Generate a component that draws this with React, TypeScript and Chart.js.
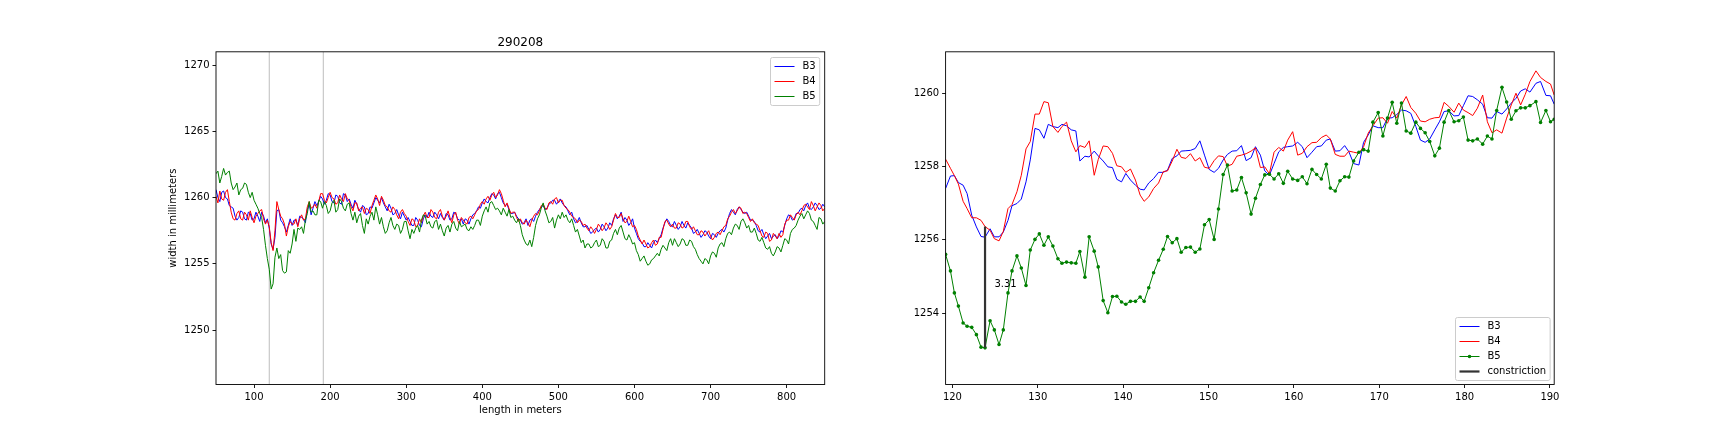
import React, { useEffect, useRef } from "react";
import Chart from "chart.js/auto";

const FONT = "'DejaVu Sans', sans-serif";

// ---- left plot: whole run, read every 2.5 m ----
const leftX = [
  50, 52.5, 55, 57.5, 60, 62.5, 65, 67.5, 70, 72.5, 75, 77.5, 80, 82.5, 85, 87.5, 90, 92.5, 95, 97.5,
  100, 102.5, 105, 107.5, 110, 112.5, 115, 117.5, 120, 122.5, 125, 127.5, 130, 132.5, 135, 137.5, 140, 142.5, 145, 147.5,
  150, 152.5, 155, 157.5, 160, 162.5, 165, 167.5, 170, 172.5, 175, 177.5, 180, 182.5, 185, 187.5, 190, 192.5, 195, 197.5,
  200, 202.5, 205, 207.5, 210, 212.5, 215, 217.5, 220, 222.5, 225, 227.5, 230, 232.5, 235, 237.5, 240, 242.5, 245, 247.5,
  250, 252.5, 255, 257.5, 260, 262.5, 265, 267.5, 270, 272.5, 275, 277.5, 280, 282.5, 285, 287.5, 290, 292.5, 295, 297.5,
  300, 302.5, 305, 307.5, 310, 312.5, 315, 317.5, 320, 322.5, 325, 327.5, 330, 332.5, 335, 337.5, 340, 342.5, 345, 347.5,
  350, 352.5, 355, 357.5, 360, 362.5, 365, 367.5, 370, 372.5, 375, 377.5, 380, 382.5, 385, 387.5, 390, 392.5, 395, 397.5,
  400, 402.5, 405, 407.5, 410, 412.5, 415, 417.5, 420, 422.5, 425, 427.5, 430, 432.5, 435, 437.5, 440, 442.5, 445, 447.5,
  450, 452.5, 455, 457.5, 460, 462.5, 465, 467.5, 470, 472.5, 475, 477.5, 480, 482.5, 485, 487.5, 490, 492.5, 495, 497.5,
  500, 502.5, 505, 507.5, 510, 512.5, 515, 517.5, 520, 522.5, 525, 527.5, 530, 532.5, 535, 537.5, 540, 542.5, 545, 547.5,
  550, 552.5, 555, 557.5, 560, 562.5, 565, 567.5, 570, 572.5, 575, 577.5, 580, 582.5, 585, 587.5, 590, 592.5, 595, 597.5,
  600, 602.5, 605, 607.5, 610, 612.5, 615, 617.5, 620, 622.5, 625, 627.5, 630, 632.5, 635, 637.5, 640, 642.5, 645, 647.5,
  650, 652.5, 655, 657.5, 660, 662.5, 665, 667.5, 670, 672.5, 675, 677.5, 680, 682.5, 685, 687.5, 690, 692.5, 695, 697.5,
  700, 702.5, 705, 707.5, 710, 712.5, 715, 717.5, 720, 722.5, 725, 727.5, 730, 732.5, 735, 737.5, 740, 742.5, 745, 747.5,
  750, 752.5, 755, 757.5, 760, 762.5, 765, 767.5, 770, 772.5, 775, 777.5, 780, 782.5, 785, 787.5, 790, 792.5, 795, 797.5,
  800, 802.5, 805, 807.5, 810, 812.5, 815, 817.5, 820, 822.5, 825, 827.5, 830, 832.5, 835, 837.5, 840, 842.5, 845, 847.5,
  850,
];
const leftB3 = [
  1260.6, 1260.0, 1259.7, 1260.4, 1260.5, 1260.0, 1259.9, 1259.4, 1259.3, 1259.2, 1258.6, 1258.3, 1258.5, 1259.0, 1258.9, 1258.4, 1258.3, 1258.9, 1258.8, 1258.3,
  1258.4, 1258.9, 1258.6, 1258.2, 1258.9, 1258.6, 1258.1, 1258.4, 1257.7, 1256.5, 1256.1, 1257.0, 1259.0, 1259.1, 1258.3, 1258.1, 1257.8, 1257.4, 1257.9, 1258.4,
  1257.9, 1258.3, 1258.3, 1257.9, 1258.6, 1258.5, 1258.4, 1258.1, 1259.1, 1259.5, 1258.7, 1259.2, 1259.7, 1259.4, 1259.7, 1260.1, 1259.9, 1259.5, 1259.8, 1260.3,
  1260.2, 1259.7, 1259.6, 1260.2, 1260.1, 1259.6, 1259.5, 1260.3, 1260.2, 1259.7, 1259.9, 1259.5, 1259.2, 1259.8, 1259.5, 1259.1, 1258.9, 1259.4, 1259.3, 1258.7,
  1258.8, 1259.3, 1259.2, 1259.6, 1260.0, 1259.8, 1259.6, 1260.0, 1259.6, 1259.3, 1259.0, 1259.5, 1259.2, 1258.7, 1258.8, 1259.1, 1258.7, 1258.4, 1258.9, 1258.6,
  1258.3, 1258.5, 1258.2, 1257.9, 1257.9, 1258.5, 1258.3, 1257.9, 1257.8, 1258.4, 1258.7, 1258.5, 1258.9, 1258.6, 1258.5, 1258.9, 1258.7, 1258.4, 1258.8, 1258.5,
  1258.3, 1258.8, 1258.7, 1258.3, 1258.4, 1258.9, 1258.8, 1258.4, 1258.3, 1258.4, 1258.0, 1258.4, 1258.3, 1258.0, 1258.4, 1258.7, 1258.8, 1259.0, 1259.3, 1259.2,
  1259.6, 1259.9, 1259.7, 1259.6, 1260.0, 1260.3, 1260.2, 1259.9, 1260.3, 1260.4, 1260.0, 1259.6, 1259.4, 1259.5, 1259.1, 1258.8, 1258.8, 1258.9, 1258.6, 1258.4,
  1258.3, 1258.0, 1258.1, 1258.4, 1257.9, 1258.3, 1258.4, 1258.2, 1258.6, 1258.9, 1259.1, 1259.3, 1259.4, 1259.1, 1259.2, 1259.5, 1259.6, 1259.8, 1259.8, 1259.5,
  1259.7, 1259.9, 1259.6, 1259.4, 1259.3, 1259.0, 1258.7, 1258.9, 1258.4, 1258.1, 1258.2, 1258.5, 1258.1, 1257.8, 1257.8, 1257.9, 1257.6, 1257.3, 1257.4, 1257.6,
  1257.7, 1257.4, 1257.6, 1258.0, 1257.8, 1257.5, 1257.7, 1258.1, 1257.9, 1258.4, 1258.7, 1258.4, 1258.6, 1258.9, 1258.2, 1258.5, 1258.3, 1257.9, 1258.1, 1258.4,
  1257.7, 1257.3, 1256.9, 1256.7, 1256.6, 1256.3, 1256.3, 1256.6, 1256.4, 1256.2, 1256.6, 1256.8, 1256.6, 1256.9, 1257.2, 1257.7, 1258.1, 1258.4, 1258.2, 1257.9,
  1257.8, 1258.2, 1257.9, 1257.6, 1257.8, 1258.2, 1257.9, 1257.7, 1258.1, 1257.9, 1257.7, 1257.3, 1257.4, 1257.6, 1257.3, 1257.0, 1257.2, 1257.5, 1257.4, 1257.1,
  1256.9, 1257.3, 1257.2, 1257.0, 1257.3, 1257.5, 1257.6, 1257.4, 1257.7, 1258.3, 1258.8, 1259.1, 1258.9, 1258.7, 1259.1, 1259.3, 1259.1, 1258.9, 1258.8, 1258.9,
  1258.6, 1258.3, 1258.3, 1258.2, 1257.9, 1257.5, 1257.4, 1257.6, 1257.2, 1256.9, 1257.1, 1257.3, 1256.9, 1257.1, 1257.2, 1256.9, 1257.1, 1257.5, 1257.4, 1257.9,
  1258.4, 1258.7, 1258.6, 1258.3, 1258.4, 1258.8, 1258.8, 1259.1, 1259.2, 1259.0, 1259.4, 1259.6, 1259.2, 1259.1, 1259.3, 1259.6, 1259.4, 1259.1, 1259.2, 1259.5,
  1259.3,
];
const leftB4 = [
  1260.1, 1259.6, 1260.5, 1259.9, 1259.8, 1260.4, 1260.6, 1259.7, 1258.9, 1258.4, 1258.3, 1258.8, 1259.0, 1258.4, 1258.3, 1258.9, 1258.7, 1258.3, 1259.0, 1258.5,
  1258.1, 1258.6, 1258.8, 1259.0, 1259.1, 1258.4, 1258.0, 1258.3, 1257.8, 1256.6, 1256.0, 1257.5, 1259.7, 1259.1, 1258.6, 1258.4, 1258.0, 1257.1, 1257.8, 1258.2,
  1258.0, 1258.0, 1258.4, 1257.8, 1258.4, 1258.7, 1258.3, 1258.4, 1259.3, 1259.7, 1259.2, 1259.3, 1259.5, 1259.2, 1259.7, 1260.3, 1260.3, 1259.8, 1259.6, 1260.0,
  1260.4, 1260.0, 1259.9, 1259.5, 1259.6, 1260.2, 1259.9, 1259.7, 1260.3, 1259.9, 1259.8, 1259.3, 1259.0, 1259.6, 1259.6, 1259.0, 1259.2, 1259.3, 1258.8, 1259.2,
  1259.1, 1258.8, 1259.4, 1259.8, 1260.2, 1259.9, 1259.4, 1260.1, 1259.8, 1259.4, 1259.3, 1259.0, 1258.9, 1259.3, 1259.1, 1258.7, 1258.4, 1258.9, 1259.1, 1258.8,
  1258.6, 1258.2, 1257.9, 1258.4, 1258.3, 1257.8, 1257.9, 1258.4, 1258.1, 1258.6, 1258.9, 1258.5, 1258.5, 1259.1, 1258.9, 1258.5, 1258.4, 1258.9, 1259.1, 1258.6,
  1258.3, 1258.6, 1259.0, 1258.5, 1258.1, 1258.7, 1258.9, 1258.3, 1258.0, 1258.5, 1258.3, 1258.1, 1258.0, 1258.5, 1258.6, 1258.4, 1258.7, 1259.0, 1259.1, 1259.5,
  1259.7, 1259.5, 1259.9, 1260.1, 1259.8, 1260.2, 1260.4, 1260.0, 1260.2, 1260.6, 1260.3, 1259.8, 1259.3, 1259.6, 1259.2, 1258.8, 1258.9, 1258.9, 1258.5, 1258.2,
  1258.4, 1258.1, 1258.0, 1258.3, 1258.1, 1257.8, 1258.3, 1258.6, 1258.8, 1258.7, 1259.0, 1259.4, 1259.5, 1259.2, 1259.1, 1259.6, 1259.7, 1259.5, 1259.9, 1260.0,
  1259.6, 1259.8, 1259.8, 1259.4, 1259.2, 1259.1, 1258.9, 1258.6, 1258.5, 1258.4, 1258.1, 1258.3, 1258.2, 1257.9, 1258.0, 1257.7, 1257.5, 1257.8, 1257.6, 1257.3,
  1257.6, 1258.0, 1257.8, 1257.5, 1257.7, 1258.1, 1257.9, 1257.6, 1257.8, 1258.3, 1258.8, 1258.5, 1258.5, 1258.8, 1258.4, 1258.1, 1258.2, 1258.6, 1258.2, 1257.8,
  1257.9, 1257.6, 1257.1, 1256.8, 1256.5, 1256.8, 1256.5, 1256.2, 1256.3, 1256.6, 1256.8, 1256.4, 1256.5, 1257.0, 1257.0, 1257.6, 1258.2, 1258.3, 1258.0, 1257.8,
  1258.0, 1257.7, 1257.7, 1258.1, 1258.0, 1257.7, 1257.8, 1258.2, 1258.2, 1257.8, 1257.6, 1257.8, 1257.5, 1257.2, 1257.2, 1257.5, 1257.4, 1257.1, 1257.3, 1257.5,
  1257.1, 1256.8, 1257.0, 1257.3, 1257.4, 1257.2, 1257.5, 1257.8, 1257.9, 1258.4, 1258.6, 1258.9, 1259.1, 1258.8, 1259.0, 1259.3, 1259.2, 1258.8, 1258.9, 1258.8,
  1258.5, 1258.2, 1258.4, 1258.1, 1258.0, 1257.9, 1257.5, 1257.1, 1257.0, 1257.4, 1257.3, 1256.7, 1256.8, 1257.3, 1257.1, 1256.9, 1257.3, 1257.0, 1257.2, 1258.0,
  1258.3, 1258.3, 1258.7, 1258.5, 1258.3, 1258.7, 1258.9, 1258.7, 1259.0, 1259.4, 1259.5, 1259.3, 1259.1, 1259.7, 1259.4, 1259.0, 1259.3, 1259.6, 1259.4, 1259.0,
  1259.2,
];
const leftB5 = [
  1261.8, 1262.0, 1261.1, 1261.6, 1262.2, 1261.7, 1261.9, 1262.0, 1261.1, 1260.6, 1260.8, 1261.1, 1260.2, 1260.6, 1260.7, 1261.1, 1261.0, 1260.4, 1260.0, 1260.4,
  1259.8, 1259.5, 1259.2, 1258.8, 1258.5, 1257.6, 1256.4, 1255.4, 1254.6, 1253.1, 1253.5, 1255.5, 1256.2, 1255.4, 1255.7, 1254.5, 1254.3, 1254.4, 1256.0, 1255.8,
  1256.5, 1257.6, 1256.7, 1257.7, 1257.6, 1257.8, 1257.3, 1258.3, 1258.8, 1259.7, 1258.9, 1259.0, 1258.7, 1258.7, 1259.8, 1259.7, 1259.2, 1259.7, 1259.4, 1258.8,
  1259.0, 1259.6, 1259.8, 1258.9, 1259.1, 1259.9, 1259.7, 1259.2, 1259.0, 1259.5, 1259.6, 1258.8, 1258.3, 1258.9, 1258.1, 1258.6, 1258.8, 1257.9, 1257.3, 1258.4,
  1258.0, 1258.6, 1258.9, 1258.3, 1259.3, 1258.7, 1258.0, 1258.5, 1257.8, 1257.3, 1257.5, 1258.1, 1258.5, 1257.9, 1257.6, 1258.0, 1257.9, 1257.3, 1257.6, 1258.2,
  1258.2, 1257.5, 1256.9, 1257.6, 1257.3, 1257.7, 1257.9, 1257.4, 1258.3, 1258.7, 1258.6, 1258.0, 1258.2, 1257.8, 1257.7, 1258.2, 1258.3, 1257.6, 1258.0, 1257.5,
  1257.1, 1257.7, 1257.9, 1257.4, 1258.0, 1258.2, 1257.7, 1257.5, 1258.2, 1257.8, 1257.9, 1258.0, 1257.6, 1257.5, 1257.8, 1257.6, 1257.9, 1258.3, 1258.3, 1257.9,
  1258.6, 1259.0, 1259.3, 1258.9, 1259.6, 1259.7, 1259.4, 1259.1, 1259.2, 1259.0, 1258.7, 1259.2, 1258.9, 1258.6, 1259.1, 1258.5, 1258.6, 1258.3, 1258.1, 1258.4,
  1257.9, 1257.2, 1256.8, 1256.5, 1256.4, 1256.8, 1256.3, 1257.0, 1257.9, 1258.4, 1258.7, 1259.2, 1259.6, 1259.0, 1258.6, 1258.1, 1258.2, 1258.5, 1257.7, 1258.3,
  1258.7, 1258.4, 1258.9, 1258.5, 1258.7, 1258.3, 1258.1, 1258.4, 1257.9, 1257.4, 1257.6, 1257.1, 1256.6, 1256.8, 1256.2, 1256.5, 1256.5, 1256.2, 1256.3, 1256.6,
  1256.8, 1256.3, 1256.4, 1256.9, 1256.7, 1256.2, 1256.2, 1256.7, 1256.8, 1257.3, 1257.6, 1257.2, 1257.7, 1257.9, 1257.4, 1256.9, 1256.8, 1257.2, 1256.9, 1256.5,
  1256.6, 1256.0, 1255.7, 1255.2, 1255.4, 1255.6, 1255.2, 1254.9, 1255.0, 1255.3, 1255.4, 1255.6, 1255.8, 1255.6, 1256.1, 1256.4, 1256.2, 1256.0, 1256.6, 1256.9,
  1256.4, 1256.9, 1256.6, 1256.3, 1256.5, 1256.9, 1256.8, 1256.4, 1256.4, 1256.8, 1256.7, 1256.3, 1256.1, 1255.7, 1255.4, 1255.2, 1255.0, 1255.4, 1255.3, 1255.0,
  1255.6, 1255.9, 1255.8, 1255.5, 1256.2, 1256.5, 1256.6, 1256.3, 1256.9, 1257.3, 1257.4, 1257.2, 1257.7, 1258.0, 1257.9, 1257.6, 1258.2, 1258.4, 1258.1, 1257.7,
  1257.9, 1257.4, 1257.4, 1257.7, 1257.3, 1256.8, 1256.7, 1257.0, 1256.6, 1256.2, 1256.1, 1256.3, 1255.8, 1255.6, 1255.9, 1256.3, 1256.2, 1255.9, 1256.4, 1256.9,
  1256.8, 1256.5, 1257.3, 1257.6, 1257.7, 1257.9, 1258.3, 1258.6, 1258.8, 1258.4, 1258.7, 1259.0, 1258.8, 1258.3, 1258.2, 1257.9, 1257.6, 1258.5, 1258.4, 1258.0,
  1258.2,
];
const leftXTicks = [100, 200, 300, 400, 500, 600, 700, 800];
const leftYTicks = [1250, 1255, 1260, 1265, 1270];
const leftXRange = [50, 850];
const leftYRange = [1245.9, 1271.0];
const windowLines = [120, 191];

// ---- right plot: zoom on the constriction ----
const rightX = [
  119.2, 119.77, 120.23, 120.7, 121.25, 121.72, 122.26, 122.81, 123.35, 123.82, 124.41, 124.91, 125.46, 125.96, 126.51, 126.98,
  127.56, 128.07, 128.62, 129.12, 129.67, 130.18, 130.72, 131.23, 131.77, 132.36, 132.83, 133.37, 133.92, 134.46, 134.93, 135.52,
  136.02, 136.61, 137.08, 137.66, 138.21, 138.75, 139.26, 139.81, 140.31, 140.86, 141.44, 141.99, 142.46, 143.0,
  143.57, 144.15, 144.7, 145.2, 145.75, 146.3, 146.8, 147.35, 147.89, 148.44, 148.99, 149.53, 150.08, 150.66, 151.17, 151.72,
  152.22, 152.77, 153.31, 153.86, 154.41, 154.99, 155.5, 156.08, 156.59, 157.13, 157.68, 158.23, 158.77, 159.28, 159.86, 160.45,
  160.99, 161.54, 162.12, 162.67, 163.22, 163.8, 164.27, 164.85, 165.4, 165.95, 166.45,
  167.0, 167.62, 168.17, 168.71, 169.26, 169.88, 170.43, 170.97, 171.52, 172.06, 172.61, 173.16, 173.7, 174.29, 174.83, 175.38,
  175.92, 176.51, 177.05, 177.6, 178.15, 178.77, 179.32, 179.86, 180.41, 180.95, 181.5, 182.12, 182.67, 183.21, 183.76, 184.38,
  184.93, 185.47, 186.02, 186.57, 187.11, 187.66, 188.36, 188.9, 189.53, 190.07, 190.5,
];
const rightB3 = [
  1257.4, 1257.74, 1257.75, 1257.56, 1257.49, 1257.26, 1256.67, 1256.35, 1256.09, 1256.07, 1256.3, 1256.08, 1256.08, 1256.21, 1256.53, 1256.93,
  1256.99, 1257.11, 1257.58, 1258.18, 1259.04, 1259.0, 1258.77, 1259.15, 1259.09, 1259.06, 1259.15, 1259.11, 1259.0, 1258.97, 1258.15, 1258.28,
  1258.26, 1258.42, 1258.29, 1258.15, 1257.99, 1257.97, 1257.65, 1257.58, 1257.81, 1257.63, 1257.49, 1257.38, 1257.36, 1257.55,
  1257.67, 1257.84, 1257.84, 1257.9, 1258.22, 1258.29, 1258.42, 1258.43, 1258.44, 1258.49, 1258.7, 1258.31, 1257.92, 1257.84, 1257.95, 1258.18,
  1258.33, 1258.42, 1258.43, 1258.57, 1258.16, 1258.24, 1258.54, 1258.31, 1257.88, 1257.76, 1258.08, 1258.4, 1258.52, 1258.54, 1258.56, 1258.66,
  1258.54, 1258.24, 1258.39, 1258.54, 1258.56, 1258.72, 1258.75, 1258.42, 1258.43, 1258.57, 1258.4,
  1258.08, 1258.04, 1258.66, 1258.86, 1259.11, 1259.06, 1259.06, 1259.32, 1259.33, 1259.42, 1259.54, 1259.52, 1259.45, 1259.09, 1258.72, 1258.66,
  1258.75, 1259.0, 1259.22, 1259.5, 1259.52, 1259.38, 1259.39, 1259.66, 1259.93, 1259.91, 1259.82, 1259.7, 1259.33, 1259.32, 1259.5, 1259.43,
  1259.57, 1259.73, 1259.86, 1260.06, 1260.12, 1260.03, 1260.27, 1260.32, 1259.94, 1259.93, 1259.7,
];
const rightB4 = [
  1258.2, 1257.95, 1257.75, 1257.52, 1257.05, 1256.85, 1256.6, 1256.6, 1256.53, 1256.36, 1256.26, 1256.03, 1255.97, 1256.23, 1256.85, 1256.96,
  1257.31, 1257.76, 1258.48, 1258.68, 1259.43, 1259.43, 1259.77, 1259.74, 1259.09, 1258.93, 1259.09, 1259.21, 1258.7, 1258.4, 1258.57, 1258.52,
  1258.7, 1257.76, 1258.19, 1258.56, 1258.54, 1258.36, 1258.02, 1257.99, 1257.84, 1257.93, 1257.63, 1257.22, 1257.05, 1257.17,
  1257.4, 1257.55, 1257.86, 1257.88, 1258.15, 1258.47, 1258.25, 1258.22, 1258.35, 1258.15, 1258.24, 1257.98, 1257.95, 1258.16, 1258.29, 1258.27,
  1258.01, 1258.06, 1258.28, 1258.31, 1258.35, 1258.42, 1258.51, 1257.97, 1257.99, 1257.8, 1258.39, 1258.52, 1258.42, 1258.72, 1258.95, 1258.31,
  1258.36, 1258.54, 1258.65, 1258.66, 1258.79, 1258.86, 1258.75, 1258.33, 1258.28, 1258.28, 1258.42,
  1258.39, 1258.36, 1258.54, 1258.91, 1259.11, 1259.32, 1259.33, 1259.18, 1259.5, 1259.32, 1259.68, 1259.91, 1259.61, 1259.45, 1259.24, 1259.22,
  1259.29, 1259.33, 1259.34, 1259.75, 1259.64, 1259.48, 1259.73, 1259.54, 1259.47, 1259.39, 1259.59, 1259.95, 1259.22, 1258.92, 1259.0, 1258.91,
  1259.32, 1259.68, 1260.0, 1259.68, 1259.97, 1260.32, 1260.61, 1260.43, 1260.32, 1260.25, 1259.95,
];
const rightB5 = [
  1255.6, 1255.15, 1254.55, 1254.19, 1253.73, 1253.64, 1253.61, 1253.41, 1253.07, 1253.05, 1253.79, 1253.54, 1253.14, 1253.54, 1254.55, 1255.15,
  1255.56, 1255.23, 1254.75, 1255.72, 1256.01, 1256.16, 1255.85, 1256.08, 1255.83, 1255.48, 1255.36, 1255.39, 1255.37, 1255.36, 1255.68, 1254.98,
  1256.08, 1255.69, 1255.26, 1254.34, 1254.01, 1254.45, 1254.46, 1254.3, 1254.24, 1254.32, 1254.32, 1254.44, 1254.32, 1254.69,
  1255.1, 1255.44, 1255.74, 1256.09, 1255.92, 1256.03, 1255.66, 1255.79, 1255.8, 1255.66, 1255.75, 1256.41, 1256.55, 1256.01, 1256.84, 1257.78,
  1258.04, 1257.33, 1257.36, 1257.7, 1257.28, 1256.7, 1257.13, 1257.51, 1257.77, 1257.79, 1257.66, 1257.8, 1257.54, 1257.87, 1257.66, 1257.62,
  1257.72, 1257.53, 1257.92, 1257.78, 1257.66, 1258.06, 1257.41, 1257.33, 1257.61, 1257.72, 1257.71,
  1258.15, 1258.39, 1258.46, 1258.42, 1259.21, 1259.47, 1258.83, 1259.32, 1259.75, 1259.18, 1259.73, 1258.97, 1258.91, 1259.21, 1259.04, 1258.92,
  1258.68, 1258.29, 1258.5, 1259.21, 1259.53, 1259.22, 1259.25, 1259.35, 1258.72, 1258.7, 1258.75, 1258.61, 1258.83, 1258.75, 1259.53, 1260.16,
  1259.76, 1259.29, 1259.52, 1259.6, 1259.6, 1259.66, 1259.77, 1259.2, 1259.53, 1259.22, 1259.29,
];
const rightXTicks = [120, 130, 140, 150, 160, 170, 180, 190];
const rightYTicks = [1254, 1256, 1258, 1260];
const rightYRange = [1252.05, 1261.13];
const constrictionIndex = 9; // where B5 is narrowest

const pts = (xs: number[], ys: number[]) => xs.map((x, i) => ({ x, y: ys[i] }));

type LegendItem = { label: string; color: string; width: number; marker?: boolean };

function drawLegend(chart: any, items: LegendItem[], corner: "upper" | "lower") {
  const { ctx, chartArea } = chart;
  ctx.save();
  ctx.font = `10px ${FONT}`;
  const textW = Math.max(...items.map((it) => ctx.measureText(it.label).width));
  const w = 4 + 20 + 8 + textW + 4;
  const h = 8 + items.length * 10 + (items.length - 1) * 5;
  const x0 = Math.round(chartArea.right - 5 - w) + 0.5;
  const y0 = Math.round(corner === "upper" ? chartArea.top + 5 : chartArea.bottom - 5 - h) + 0.5;
  ctx.beginPath();
  ctx.roundRect(x0, y0, w, h, 2);
  ctx.fillStyle = "rgba(255,255,255,0.8)";
  ctx.fill();
  ctx.strokeStyle = "#cccccc";
  ctx.lineWidth = 1;
  ctx.stroke();
  items.forEach((it, i) => {
    const cy = y0 + 9 + i * 15;
    ctx.beginPath();
    ctx.moveTo(x0 + 4, cy);
    ctx.lineTo(x0 + 24, cy);
    ctx.strokeStyle = it.color;
    ctx.lineWidth = it.width;
    ctx.stroke();
    if (it.marker) {
      ctx.beginPath();
      ctx.arc(x0 + 14, cy, 1.8, 0, Math.PI * 2);
      ctx.fillStyle = it.color;
      ctx.fill();
    }
    ctx.fillStyle = "#000";
    ctx.textAlign = "left";
    ctx.textBaseline = "middle";
    ctx.fillText(it.label, x0 + 32, cy);
  });
  ctx.restore();
}

const framePlugin = {
  id: "frame",
  afterDatasetsDraw(chart: any) {
    const { ctx, chartArea: a } = chart;
    ctx.save();
    ctx.strokeStyle = "#000";
    ctx.lineWidth = 0.9;
    ctx.strokeRect(a.left, a.top, a.right - a.left, a.bottom - a.top);
    ctx.restore();
  },
};

function axis(ticks: number[], min: number, max: number, fit: (s: any) => void, title?: any) {
  return {
    type: "linear" as const,
    min,
    max,
    grid: { display: true, drawOnChartArea: false, drawTicks: true, tickLength: 3.5, tickWidth: 0.9, tickColor: "#000" },
    border: { display: false },
    ticks: {
      color: "#000",
      font: { family: FONT, size: 10 },
      padding: 3,
      maxRotation: 0,
      autoSkip: false,
      callback: (v: any) => String(v),
    },
    afterBuildTicks: (s: any) => {
      s.ticks = ticks.map((value) => ({ value }));
    },
    afterFit: fit,
    title: title ?? { display: false },
  };
}

const line = (data: any[], color: string, order: number, extra: any = {}) => ({
  data,
  borderColor: color,
  backgroundColor: color,
  borderWidth: 1,
  pointRadius: 0,
  tension: 0,
  order,
  ...extra,
});

function LeftPlot() {
  const ref = useRef<HTMLCanvasElement>(null);
  useEffect(() => {
    if (!ref.current) return;
    const chart = new Chart(ref.current, {
      type: "line",
      data: {
        datasets: [
          ...windowLines.map((x) =>
            line([{ x, y: leftYRange[0] }, { x, y: leftYRange[1] }], "#bdbdbd", 10)
          ),
          line(pts(leftX, leftB3), "blue", 3),
          line(pts(leftX, leftB4), "red", 2),
          line(pts(leftX, leftB5), "green", 1),
        ],
      },
      options: {
        animation: false,
        responsive: false,
        devicePixelRatio: 1,
        layout: { padding: { left: 160, right: 39.3, top: 51.8, bottom: 0 } },
        plugins: { legend: { display: false }, tooltip: { enabled: false } },
        scales: {
          x: axis(leftXTicks, leftXRange[0], leftXRange[1], (s) => { s.height = 47.5; }, {
            display: true,
            text: "length in meters",
            color: "#000",
            font: { family: FONT, size: 10 },
            padding: { top: 0, bottom: 16 },
          }),
          y: axis(leftYTicks, leftYRange[0], leftYRange[1], (s) => { s.width = 56; }, {
            display: true,
            text: "width in millimeters",
            color: "#000",
            font: { family: FONT, size: 10 },
            padding: { top: 7.6, bottom: 0 },
          }),
        },
      },
      plugins: [
        framePlugin,
        {
          id: "extras",
          afterDraw(c: any) {
            const { ctx, chartArea: a } = c;
            ctx.save();
            ctx.font = `12px ${FONT}`;
            ctx.fillStyle = "#000";
            ctx.textAlign = "center";
            ctx.textBaseline = "alphabetic";
            ctx.fillText("290208", (a.left + a.right) / 2, a.top - 6);
            ctx.restore();
            drawLegend(c, [
              { label: "B3", color: "blue", width: 1 },
              { label: "B4", color: "red", width: 1 },
              { label: "B5", color: "green", width: 1 },
            ], "upper");
          },
        },
      ],
    });
    return () => chart.destroy();
  }, []);
  return <canvas ref={ref} width={864} height={432} style={{ position: "absolute", left: 0, top: 0, width: 864, height: 432 }} />;
}

function RightPlot() {
  const ref = useRef<HTMLCanvasElement>(null);
  useEffect(() => {
    if (!ref.current) return;
    const cx = rightX[constrictionIndex];
    const low = rightB5[constrictionIndex];
    const high = rightB4[constrictionIndex];
    const label = (high - low).toFixed(2);
    const chart = new Chart(ref.current, {
      type: "line",
      data: {
        datasets: [
          line(pts(rightX, rightB3), "blue", 3),
          line(pts(rightX, rightB4), "red", 2),
          line(pts(rightX, rightB5), "green", 1, { pointRadius: 1.8, pointBorderWidth: 0, pointBackgroundColor: "green" }),
          line([{ x: cx, y: low }, { x: cx, y: high }], "#333333", 0, { borderWidth: 2.2 }),
        ],
      },
      options: {
        animation: false,
        responsive: false,
        devicePixelRatio: 1,
        layout: { padding: { left: 40, right: 173.8, top: 51.8, bottom: 0 } },
        plugins: { legend: { display: false }, tooltip: { enabled: false } },
        scales: {
          x: axis(rightXTicks, rightX[0], rightX[rightX.length - 1], (s) => { s.height = 47.5; }),
          y: axis(rightYTicks, rightYRange[0], rightYRange[1], (s) => { s.width = 41.6; }),
        },
      },
      plugins: [
        framePlugin,
        {
          id: "extras",
          afterDraw(c: any) {
            const { ctx } = c;
            ctx.save();
            ctx.font = `10px ${FONT}`;
            ctx.fillStyle = "#000";
            ctx.textAlign = "left";
            ctx.textBaseline = "alphabetic";
            ctx.fillText(label, c.scales.x.getPixelForValue(cx + 1.1), c.scales.y.getPixelForValue((low + high) / 2));
            ctx.restore();
            drawLegend(c, [
              { label: "B3", color: "blue", width: 1 },
              { label: "B4", color: "red", width: 1 },
              { label: "B5", color: "green", width: 1, marker: true },
              { label: "constriction", color: "#333333", width: 2.2 },
            ], "lower");
          },
        },
      ],
    });
    return () => chart.destroy();
  }, []);
  return <canvas ref={ref} width={864} height={432} style={{ position: "absolute", left: 864, top: 0, width: 864, height: 432 }} />;
}

export default function App() {
  return (
    <div style={{ position: "absolute", left: 0, top: 0, width: 1728, height: 432, background: "#fff" }}>
      <LeftPlot />
      <RightPlot />
    </div>
  );
}
